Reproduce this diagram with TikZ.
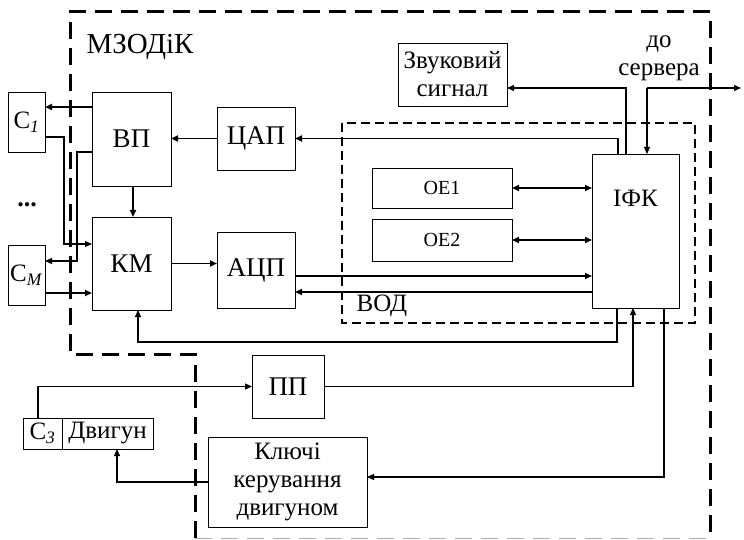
\documentclass[tikz,border=0pt]{standalone}
\usepackage{fontspec}
\setmainfont{Liberation Serif}
\usetikzlibrary{arrows.meta,calc}
\begin{document}
\begin{tikzpicture}[x=1pt,y=-1pt,
  box/.style={draw,line width=0.9pt,inner sep=0pt,outer sep=0pt,align=center,font=\fontsize{25}{28}\selectfont},
  conn/.style={line width=1.1pt},
  thk/.style={line width=1.7pt},
  arr/.style={-{Triangle[length=7pt,width=6pt]}},
  darr/.style={{Triangle[length=7pt,width=6pt]}-{Triangle[length=7pt,width=6pt]}},
  outerdash/.style={line width=3pt,dash pattern=on 17pt off 9pt},
  innerdash/.style={line width=2.5pt,dash pattern=on 9pt off 5pt},
  lbl/.style={font=\fontsize{25}{28}\selectfont,align=center,inner sep=0pt}
]
\useasboundingbox (0,0) rectangle (744,540);
% outer dashed border
\draw[outerdash] (195,538) -- (195,354) -- (70,354) -- (70,12) -- (710,12) -- (710,540);
\draw[gray!60,line width=1pt,dash pattern=on 17pt off 9pt] (195,538) -- (710,538);
% ВОД border
\draw[innerdash] (342,123) rectangle (695,323);

% nodes
\node[box,minimum width=37,minimum height=60] (c1) at (26.5,122) {С\textsubscript{\textit{1}}};
\node[box,minimum width=37,minimum height=60] (cm) at (26.5,275) {С\textsubscript{\textit{M}}};
\node[lbl,font=\fontsize{26}{26}\selectfont\bfseries] (dots) at (27,205) {...};
\node[box,minimum width=79,minimum height=94,font=\fontsize{27}{30}\selectfont] (vp) at (131.5,139) {ВП};
\node[box,minimum width=79,minimum height=93,font=\fontsize{27}{30}\selectfont] (km) at (131.5,263.5) {КМ};
\node[box,minimum width=78,minimum height=63,font=\fontsize{27}{30}\selectfont] (cap) at (256,138.5) {ЦАП};
\node[box,minimum width=78,minimum height=76,font=\fontsize{27}{30}\selectfont] (acp) at (256,270) {АЦП};
\node[box,minimum width=140,minimum height=40,font=\fontsize{20}{23}\selectfont] (oe1) at (442,188) {ОЕ1};
\node[box,minimum width=140,minimum height=42,font=\fontsize{20}{23}\selectfont] (oe2) at (442,240) {ОЕ2};
\node[box,minimum width=87,minimum height=154] (ifk) at (635.5,231) {};
\node[lbl] (ifkt) at (635.5,198) {ІФК};
\node[box,minimum width=109,minimum height=63] (zv) at (452.5,74.5) {Звуковий\\сигнал};
\node[lbl] (srvt) at (659,58) {до\\сервера};
\node[box,minimum width=72,minimum height=63,font=\fontsize{27}{30}\selectfont] (pp) at (288,386.5) {ПП};
\node[box,minimum width=159,minimum height=90] (kl) at (287.5,482) {Ключі\\керування\\двигуном};
\node[box,minimum width=39,minimum height=31] (c3) at (42.5,433.5) {С\textsubscript{\textit{3}}};
\node[box,minimum width=91,minimum height=31] (dv) at (107.5,433.5) {Двигун};
\node[lbl,font=\fontsize{29}{32}\selectfont] (mzt) at (140,47) {МЗОДіК};
\node[lbl] (vodt) at (382,306) {ВОД};
\coordinate (srv) at (741,88);

% connectors
\draw[thk,arr] ([yshift=-15pt]vp.north west) -- ([yshift=-15pt]vp.north west -| c1.east);
\draw[conn,arr] ([yshift=-15pt]c1.east) -- ++(19,0) |- ([yshift=-27pt]km.north west);
\draw[conn,arr] ([yshift=-60pt]vp.north west) -- ++(-15,0) |- ([yshift=-16pt]cm.north east);
\draw[thk,arr] ([yshift=-48pt]cm.north east) -- ([yshift=-48pt]cm.north east -| km.west);
\draw[thk,arr] ([xshift=1.5pt]vp.south) -- ([xshift=1.5pt]km.north);
\draw[thk,arr] (cap.west) -- (cap.west -| vp.east);
\draw[thk,arr] ([xshift=-17.5pt]ifk.north) |- (cap.east);
\draw[thk,arr] (km.east) -- (km.east -| acp.west);
\draw[thk,arr] ([yshift=-44pt]acp.north east) -- ([yshift=-44pt]acp.north east -| ifk.west);
\draw[thk,arr] ([yshift=-60pt]acp.north east -| ifk.west) -- ([yshift=-60pt]acp.north east);
\draw[thk,darr] (oe1.east) -- (oe1.east -| ifk.west);
\draw[thk,darr] (oe2.east) -- (oe2.east -| ifk.west);
\draw[conn,arr] ([xshift=-9.5pt]ifk.north) |- ([yshift=18pt]zv.south east);
\draw[conn,arr] ([xshift=11.5pt]ifk.north |- srv) -- (srv);
\draw[conn,arr] ([xshift=11.5pt]ifk.north |- srv) -- ([xshift=11.5pt]ifk.north);
\draw[conn,arr] ([xshift=-18.5pt]ifk.south) -- ++(0,34) -| ([xshift=6.5pt]km.south);
\draw[conn,arr] (pp.east) -| ([xshift=-2.5pt]ifk.south);
\draw[conn,arr] ([xshift=28.5pt]ifk.south) |- ([yshift=5pt]kl.east);
\draw[conn,arr] ([xshift=-4.5pt]c3.north) |- (pp.west);
\draw[conn,arr] (kl.west) -| ([xshift=9.5pt]dv.south);
\end{tikzpicture}
\end{document}
